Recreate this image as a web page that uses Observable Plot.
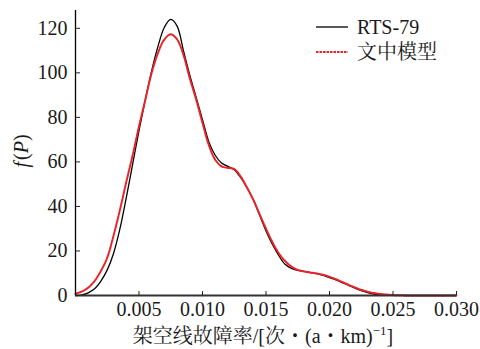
<!DOCTYPE html>
<html><head><meta charset="utf-8">
<script src="https://cdn.jsdelivr.net/npm/d3@7"></script>
<script src="https://cdn.jsdelivr.net/npm/@observablehq/plot@0.6"></script>
<style>
body{margin:0;background:#fff;}
#wrap{position:relative;width:480px;height:349px;font-family:'Liberation Serif','Noto Serif CJK SC','Noto Sans CJK SC',serif;color:#1a1a1a;}
.leg{position:absolute;left:316px;width:140px;height:24px;font-size:20px;}
.leg svg{position:absolute;left:0;top:0;}
.leg span{position:absolute;left:41px;top:0;line-height:24px;white-space:nowrap;}
</style></head><body><div id="wrap"></div>
<script>
const rate = [0,0.0005,0.001,0.0015,0.002,0.0025,0.003,0.0035,0.004,0.0045,0.005,0.0055,0.006,0.0065,0.007,0.0075,0.008,0.0085,0.009,0.0095,0.01,0.0105,0.011,0.0115,0.012,0.0125,0.013,0.0135,0.014,0.0145,0.015,0.0155,0.016,0.0165,0.017,0.0175,0.018,0.0185,0.019,0.0195,0.02,0.0205,0.021,0.0215,0.022,0.0225,0.023,0.0235,0.024,0.0245,0.025,0.026,0.027,0.028,0.029,0.03];
const rts79 = [0,0.3,1.2,3,6.5,11.5,19,30,44,59,74,88,101,112,120.5,124,121,110,99,89,79,69,63,59.5,58,56.5,53,48.5,43,36,29,23,18,14,12.2,11.3,10.8,10.3,9.8,9,8,7,5.8,4.5,3.3,2.2,1.3,0.6,0.25,0.1,0.05,0,0,0,0,0];
const model = [0.8,1.8,3.5,6.5,11,17,27,38.5,51,63,76,88,100,109,115,117.3,115,108,97.5,88,77.5,67.5,61,58,57.3,56.8,53.5,48.5,43,36.5,30,24,19,15.5,13,11.5,10.8,10.3,9.9,9.3,8.4,7.3,6.1,4.8,3.6,2.5,1.7,1.1,0.7,0.4,0.2,0.05,0,0,0,0];
const seriesNames = ["RTS-79","文中模型"];
const xTicks = [0.005,0.010,0.015,0.020,0.025,0.030];
const yTicks = [0,20,40,60,80,100,120];
const xTitle = "架空线故障率/[次・(a・km)";
const xTitleSup = "−1";
const xTitleEnd = "]";

const rowsA = rate.map((r,i)=>({rate:r,f:rts79[i]}));
const rowsB = rate.map((r,i)=>({rate:r,f:model[i]}));

const chart = Plot.plot({
  width:480,height:349,marginLeft:75,marginRight:24,marginTop:10,marginBottom:54,
  style:{fontFamily:"'Liberation Serif','Noto Serif CJK SC','Noto Sans CJK SC',serif",fontSize:"20px",color:"#1a1a1a",background:"#fff"},
  x:{domain:[0,0.03]},
  y:{domain:[0,128]},
  marks:[
    Plot.line(rowsA,{x:"rate",y:"f",stroke:"#000",strokeWidth:1.3,curve:"catmull-rom"}),
    Plot.line(rowsB,{x:"rate",y:"f",stroke:"#e8242a",strokeWidth:2,strokeDasharray:"2.5,1",curve:"catmull-rom"}),
    Plot.ruleX([0],{stroke:"#000",strokeWidth:1.3}),
    Plot.ruleY([0],{stroke:"#333",strokeWidth:1.8}),
    Plot.axisX({ticks:xTicks,tickSize:-4,tickPadding:10,tickFormat:d3.format(".3f"),label:null,stroke:"#222",fill:"#1a1a1a"}),
    Plot.axisY({ticks:yTicks,tickSize:-5,tickPadding:13,label:null,stroke:"#222",fill:"#1a1a1a"})
  ]
});
const wrap = document.getElementById("wrap");
wrap.appendChild(chart);

const svg = d3.select(chart);
const xt = svg.append("text").attr("x",263).attr("y",343).attr("text-anchor","middle")
  .attr("fill","#1a1a1a").style("font-size","20px");
xt.append("tspan").text(xTitle);
xt.append("tspan").attr("dy",-8).style("font-size","13px").text(xTitleSup);
xt.append("tspan").attr("dy",8).text(xTitleEnd);

const yt = svg.append("text").attr("transform","translate(28,151) rotate(-90)").attr("text-anchor","middle")
  .attr("fill","#1a1a1a").style("font-size","20px");
yt.append("tspan").attr("font-style","italic").text("f");
yt.append("tspan").attr("dx",2).text("(");
yt.append("tspan").attr("font-style","italic").text("P");
yt.append("tspan").text(")");

const legendItems = [
  {name:seriesNames[0],top:15,stroke:"#000",w:1.3,dash:null},
  {name:seriesNames[1],top:40,stroke:"#e8242a",w:2,dash:"2.5,1"}
];
legendItems.forEach(it=>{
  const d = document.createElement("div");
  d.className="leg"; d.style.top=it.top+"px";
  d.innerHTML = `<svg width="34" height="24"><line x1="0" x2="32" y1="12" y2="12" stroke="${it.stroke}" stroke-width="${it.w}" ${it.dash?`stroke-dasharray="${it.dash}"`:""}/></svg><span></span>`;
  d.querySelector("span").textContent = it.name;
  wrap.appendChild(d);
});
</script></body></html>
